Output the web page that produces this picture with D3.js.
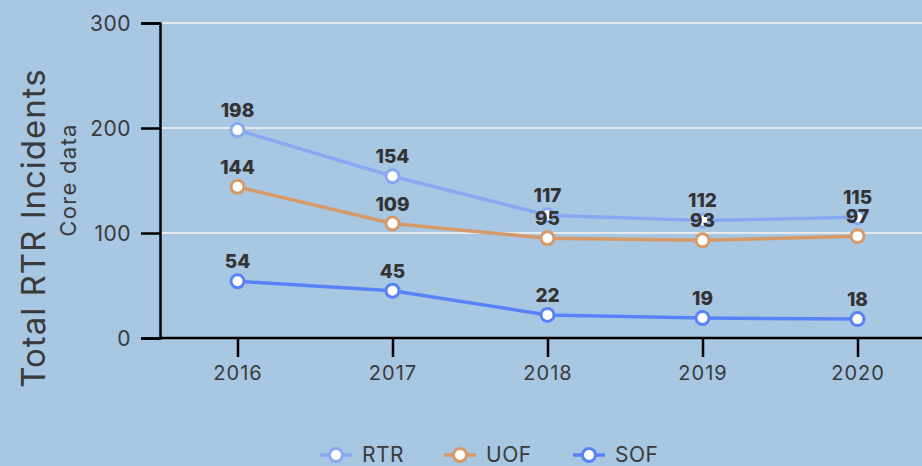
<!DOCTYPE html>
<html>
<head>
<meta charset="utf-8">
<script src="https://cdn.jsdelivr.net/npm/d3@7"></script>
<style>
  body { margin: 0; background: #a8c7e3; }
  svg { display: block; font-family: Inter, "Noto Sans", sans-serif; }
</style>
</head>
<body>
<div id="chart"></div>
<script>
var years = ["2016", "2017", "2018", "2019", "2020"];
var rtr = [198, 154, 117, 112, 115];
var uof = [144, 109, 95, 93, 97];
var sof = [54, 45, 22, 19, 18];
var yTicks = [0, 100, 200, 300];

var series = [
  { name: "RTR", values: rtr, color: "#88a9f2" },
  { name: "UOF", values: uof, color: "#d69a69" },
  { name: "SOF", values: sof, color: "#5a82f7" }
];

var W = 922, H = 466;
var margin = { top: 23, left: 160, bottom: 128 };

var svg = d3.select("#chart").append("svg")
  .attr("width", W).attr("height", H);

var x = d3.scalePoint()
  .domain(years)
  .range([margin.left, margin.left + 155 * 5])
  .padding(0.5);

var y = d3.scaleLinear()
  .domain([0, 300])
  .range([H - margin.bottom, margin.top]);

// gridlines
svg.append("g")
  .selectAll("line")
  .data(yTicks.filter(function (d) { return d > 0; }))
  .join("line")
  .attr("x1", margin.left).attr("x2", W)
  .attr("y1", function (d) { return y(d); })
  .attr("y2", function (d) { return y(d); })
  .attr("stroke", "#e6e9ee")
  .attr("stroke-width", 2);

// y axis
var yAxis = svg.append("g")
  .attr("transform", "translate(" + margin.left + ",0)")
  .call(d3.axisLeft(y).tickValues(yTicks).tickSize(19).tickPadding(10))
  .attr("font-family", null);
yAxis.select(".domain").attr("stroke", "#000").attr("stroke-width", 2.5);
yAxis.selectAll(".tick line").attr("stroke", "#000").attr("stroke-width", 2.5);
yAxis.selectAll(".tick text")
  .attr("fill", "#3a3a3a").style("font-size", "21px")
  .style("letter-spacing", "0.5px").attr("dy", "0.35em");

// x axis
var xAxis = svg.append("g")
  .attr("transform", "translate(0," + y(0) + ")")
  .call(d3.axisBottom(x).tickSize(19).tickPadding(9).tickSizeOuter(0))
  .attr("font-family", null);
xAxis.select(".domain").attr("d", "M" + margin.left + ",0H" + W)
  .attr("stroke", "#000").attr("stroke-width", 2.5);
xAxis.selectAll(".tick line").attr("stroke", "#000").attr("stroke-width", 2.5);
xAxis.selectAll(".tick text")
  .attr("fill", "#3a3a3a").style("font-size", "20px")
  .style("letter-spacing", "1px");

// axis titles
svg.append("text")
  .attr("transform", "translate(45,228) rotate(-90)")
  .attr("text-anchor", "middle")
  .attr("fill", "#3a3a3a")
  .style("font-size", "33px")
  .style("letter-spacing", "1px")
  .text("Total RTR Incidents");

svg.append("text")
  .attr("transform", "translate(76,180) rotate(-90)")
  .attr("text-anchor", "middle")
  .attr("fill", "#3a3a3a")
  .style("font-size", "22px")
  .style("letter-spacing", "1.3px")
  .text("Core data");

var line = d3.line()
  .x(function (d, i) { return x(years[i]); })
  .y(function (d) { return y(d); });

series.forEach(function (s) {
  var g = svg.append("g");
  g.append("path")
    .datum(s.values)
    .attr("fill", "none")
    .attr("stroke", s.color)
    .attr("stroke-width", 3.5)
    .attr("d", line);
  g.selectAll("circle")
    .data(s.values)
    .join("circle")
    .attr("cx", function (d, i) { return x(years[i]); })
    .attr("cy", function (d) { return y(d); })
    .attr("r", 6.5)
    .attr("fill", "#fff")
    .attr("stroke", s.color)
    .attr("stroke-width", 3);
});

series.forEach(function (s) {
  svg.append("g")
    .selectAll("text")
    .data(s.values)
    .join("text")
    .attr("x", function (d, i) { return x(years[i]); })
    .attr("y", function (d) { return y(d) - 13; })
    .attr("text-anchor", "middle")
    .attr("fill", "#333")
    .style("font-size", "19px")
    .style("font-weight", "800")
    .text(function (d) { return d; });
});

// legend
var legendX = [320, 444, 573];
var legend = svg.append("g")
  .selectAll("g")
  .data(series)
  .join("g")
  .attr("transform", function (d, i) { return "translate(" + legendX[i] + ",455)"; });
legend.append("line")
  .attr("x1", 0).attr("x2", 32)
  .attr("stroke", function (d) { return d.color; })
  .attr("stroke-width", 3.5);
legend.append("circle")
  .attr("cx", 16).attr("r", 6.5)
  .attr("fill", "#fff")
  .attr("stroke", function (d) { return d.color; })
  .attr("stroke-width", 3);
legend.append("text")
  .attr("x", 42).attr("dy", "0.35em")
  .attr("fill", "#3a3a3a")
  .style("font-size", "21px")
  .style("letter-spacing", "0.5px")
  .text(function (d) { return d.name; });
</script>
</body>
</html>
